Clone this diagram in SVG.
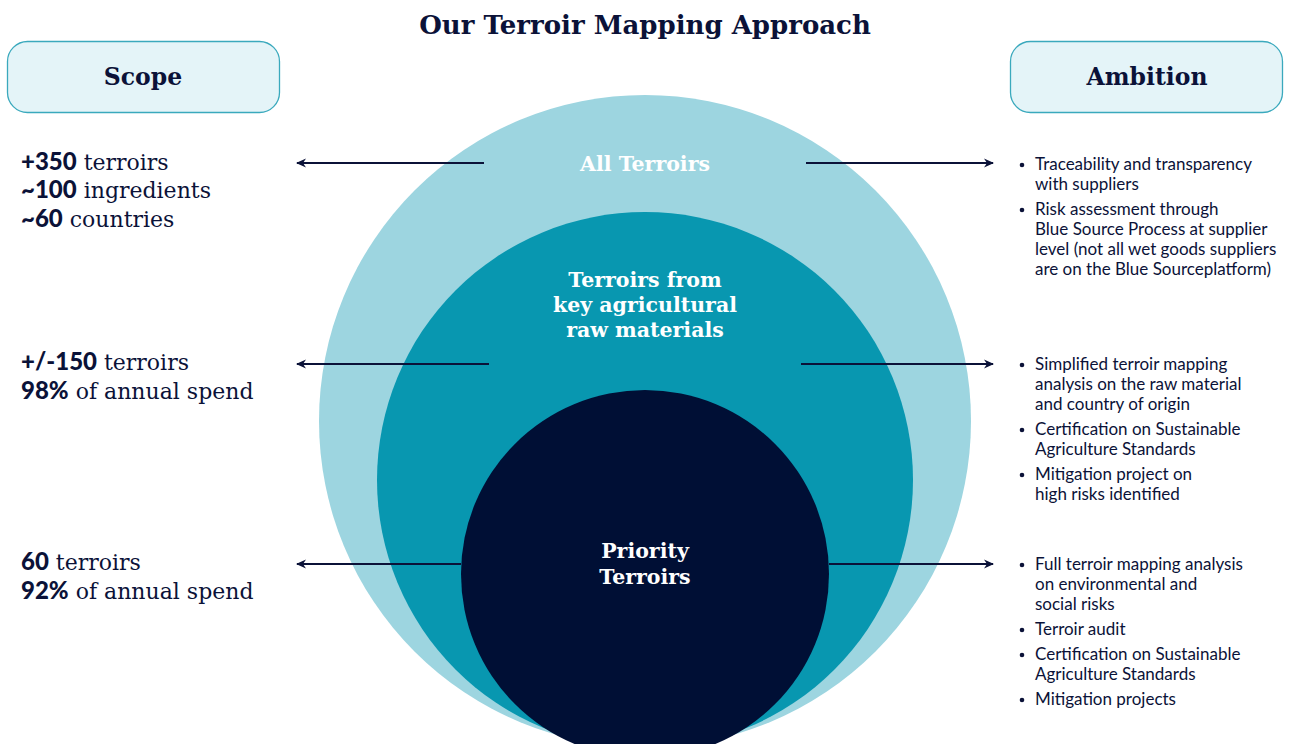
<svg xmlns="http://www.w3.org/2000/svg" width="1289" height="744" viewBox="0 0 1289 744">
  <style>
    .title { font-family: "DejaVu Serif", "Liberation Serif", serif; font-weight: bold; fill: #0b1238; }
    .head { font-family: "DejaVu Serif", "Liberation Serif", serif; font-weight: bold; font-size: 23.5px; fill: #0b1238; text-anchor: middle; }
    .ring { font-family: "DejaVu Serif", "Liberation Serif", serif; font-weight: bold; font-size: 20.5px; fill: #ffffff; text-anchor: middle; }
    .scope { font-family: "DejaVu Serif", "Liberation Serif", serif; font-size: 22px; fill: #0b1238; }
    .num { font-family: "Lato", "Liberation Sans", sans-serif; font-weight: 900; font-size: 24px; }
    .amb { font-family: "Lato", "Open Sans", sans-serif; font-size: 17px; fill: #0b1238; }
    .box { fill: #e4f4f8; stroke: #3aa9bd; stroke-width: 1.3; }
    .conn { stroke: #0b1238; stroke-width: 2; fill: none; marker-end: url(#arrow); }
    .dot { fill: #0b1238; }
  </style>
  <defs>
    <marker id="arrow" viewBox="0 0 10 10" refX="9" refY="5" markerWidth="12" markerHeight="10" markerUnits="userSpaceOnUse" orient="auto">
      <path d="M0,0.5 L10,5 L0,9.5 L3,5 Z" fill="#0b1238"/>
    </marker>
  </defs>
  <rect width="1289" height="744" fill="#ffffff"/>

  <text class="title" x="645" y="34" font-size="26" text-anchor="middle">Our Terroir Mapping Approach</text>

  <!-- concentric terroir rings -->
  <g id="ring-all">
    <circle cx="645" cy="421" r="326" fill="#9dd5e0"/>
    <text class="ring" x="645" y="171">All Terroirs</text>
  </g>
  <g id="ring-key">
    <circle cx="645" cy="480" r="268" fill="#0897b0"/>
    <text class="ring" x="645" y="287">Terroirs from</text>
    <text class="ring" x="645" y="312">key agricultural</text>
    <text class="ring" x="645" y="337">raw materials</text>
  </g>
  <g id="ring-priority">
    <circle cx="645" cy="574" r="184" fill="#000f35"/>
    <text class="ring" x="645" y="558">Priority</text>
    <text class="ring" x="645" y="584">Terroirs</text>
  </g>

  <!-- column headers -->
  <g id="scope-header">
    <rect class="box" x="7.5" y="41.5" width="272" height="71" rx="20"/>
    <text class="head" x="143" y="85">Scope</text>
  </g>
  <g id="ambition-header">
    <rect class="box" x="1010.5" y="41.5" width="272" height="71" rx="20"/>
    <text class="head" x="1147" y="85">Ambition</text>
  </g>

  <!-- connectors -->
  <g id="connectors">
    <line class="conn" x1="484" y1="163" x2="297" y2="163"/>
    <line class="conn" x1="489" y1="364" x2="297" y2="364"/>
    <line class="conn" x1="461" y1="564" x2="297" y2="564"/>
    <line class="conn" x1="806" y1="163" x2="993" y2="163"/>
    <line class="conn" x1="801" y1="364" x2="993" y2="364"/>
    <line class="conn" x1="829" y1="564" x2="993" y2="564"/>
  </g>

  <!-- scope figures -->
  <g id="scope-all">
    <text class="scope" x="21" y="170"><tspan class="num">+350</tspan> terroirs</text>
    <text class="scope" x="21" y="198"><tspan class="num">~100</tspan> ingredients</text>
    <text class="scope" x="21" y="227"><tspan class="num">~60</tspan> countries</text>
  </g>
  <g id="scope-key">
    <text class="scope" x="21" y="370"><tspan class="num">+/-150</tspan> terroirs</text>
    <text class="scope" x="21" y="399"><tspan class="num">98%</tspan> of annual spend</text>
  </g>
  <g id="scope-priority">
    <text class="scope" x="21" y="570"><tspan class="num">60</tspan> terroirs</text>
    <text class="scope" x="21" y="599"><tspan class="num">92%</tspan> of annual spend</text>
  </g>

  <!-- ambition bullets -->
  <g id="ambition-all">
    <circle class="dot" cx="1022" cy="165" r="2.3"/>
    <text class="amb" x="1035" y="170">Traceability and transparency</text>
    <text class="amb" x="1035" y="190">with suppliers</text>
    <circle class="dot" cx="1022" cy="210" r="2.3"/>
    <text class="amb" x="1035" y="215">Risk assessment through</text>
    <text class="amb" x="1035" y="235">Blue Source Process at supplier</text>
    <text class="amb" x="1035" y="255">level (not all wet goods suppliers</text>
    <text class="amb" x="1035" y="275">are on the Blue Sourceplatform)</text>
  </g>
  <g id="ambition-key">
    <circle class="dot" cx="1022" cy="365" r="2.3"/>
    <text class="amb" x="1035" y="370">Simplified terroir mapping</text>
    <text class="amb" x="1035" y="390">analysis on the raw material</text>
    <text class="amb" x="1035" y="410">and country of origin</text>
    <circle class="dot" cx="1022" cy="430" r="2.3"/>
    <text class="amb" x="1035" y="435">Certification on Sustainable</text>
    <text class="amb" x="1035" y="455">Agriculture Standards</text>
    <circle class="dot" cx="1022" cy="475" r="2.3"/>
    <text class="amb" x="1035" y="480">Mitigation project on</text>
    <text class="amb" x="1035" y="500">high risks identified</text>
  </g>
  <g id="ambition-priority">
    <circle class="dot" cx="1022" cy="565" r="2.3"/>
    <text class="amb" x="1035" y="570">Full terroir mapping analysis</text>
    <text class="amb" x="1035" y="590">on environmental and</text>
    <text class="amb" x="1035" y="610">social risks</text>
    <circle class="dot" cx="1022" cy="630" r="2.3"/>
    <text class="amb" x="1035" y="635">Terroir audit</text>
    <circle class="dot" cx="1022" cy="655" r="2.3"/>
    <text class="amb" x="1035" y="660">Certification on Sustainable</text>
    <text class="amb" x="1035" y="680">Agriculture Standards</text>
    <circle class="dot" cx="1022" cy="700" r="2.3"/>
    <text class="amb" x="1035" y="705">Mitigation projects</text>
  </g>
</svg>
